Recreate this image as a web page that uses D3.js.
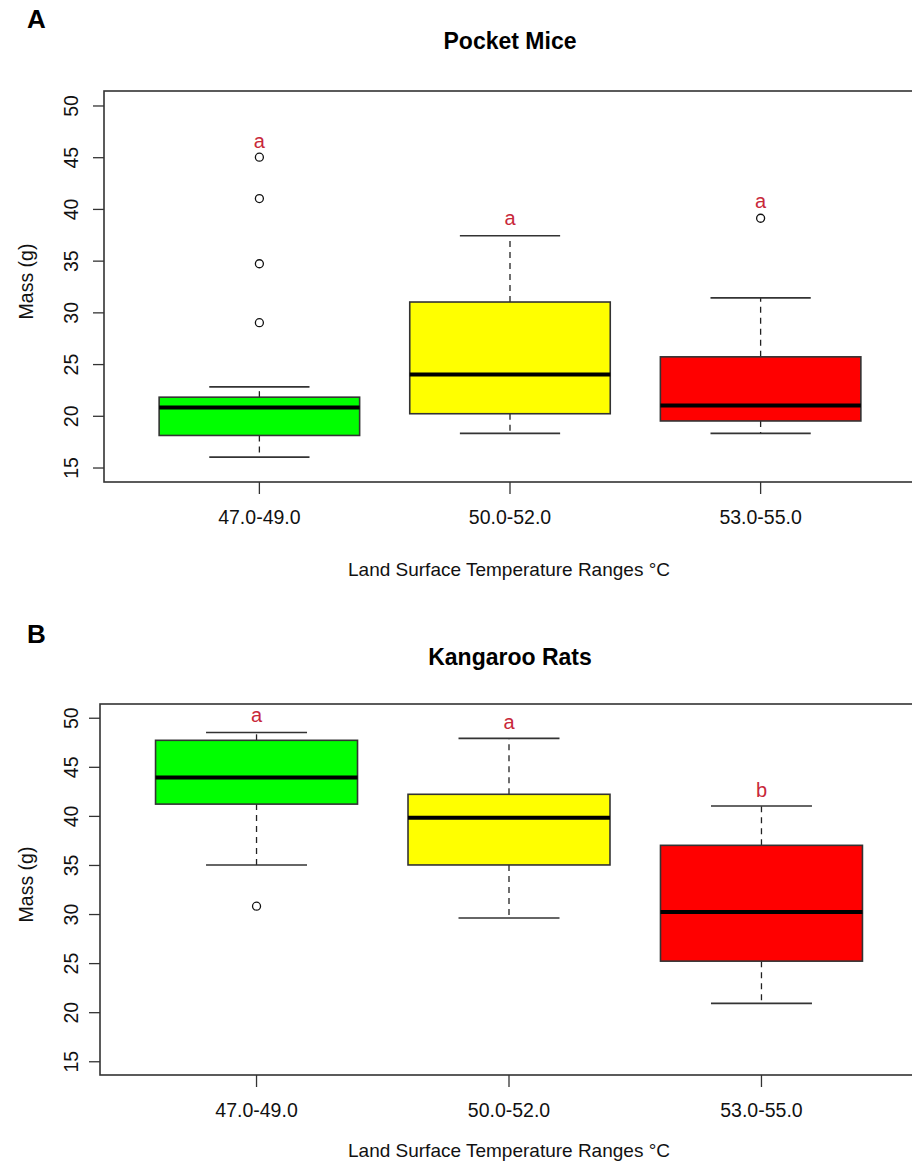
<!DOCTYPE html>
<html lang="en">
<head>
    <meta charset="UTF-8">
    <title>Mass by land surface temperature</title>
    <script src="https://cdn.jsdelivr.net/npm/d3@7"></script>
    <style>
        body { margin: 0; background: #fff; }
        svg { display: block; }
        text { font-family: "Liberation Sans", Arial, sans-serif; }
    </style>
</head>
<body>
    <div id="grafico"></div>
    <script type="text/javascript">

        // categories and ticks
        var groups = ["47.0-49.0", "50.0-52.0", "53.0-55.0"];
        var yTicks = [15, 20, 25, 30, 35, 40, 45, 50];
        var boxColors = ["#00ff00", "#ffff00", "#ff0000"];

        // Pocket Mice (panel A)
        var pmLow = [16.0, 18.3, 18.3];
        var pmQ1 = [18.1, 20.2, 19.5];
        var pmMedian = [20.8, 24.0, 21.0];
        var pmQ3 = [21.8, 31.0, 25.7];
        var pmHigh = [22.8, 37.4, 31.4];
        var pmOutliers = [[45.0, 41.0, 34.7, 29.0], [], [39.1]];
        var pmLetters = ["a", "a", "a"];
        var pmLetterAt = [46.6, 39.1, 40.8];

        // Kangaroo Rats (panel B)
        var krLow = [35.0, 29.6, 20.9];
        var krQ1 = [41.2, 35.0, 25.2];
        var krMedian = [43.9, 39.8, 30.2];
        var krQ3 = [47.7, 42.2, 37.0];
        var krHigh = [48.5, 47.9, 41.0];
        var krOutliers = [[30.8], [], []];
        var krLetters = ["a", "a", "b"];
        var krLetterAt = [50.3, 49.6, 42.6];

        var w = 912, h = 1170;

        var svg = d3.select("#grafico")
            .append("svg")
            .attr("width", w)
            .attr("height", h);

        svg.append("rect").attr("width", w).attr("height", h).attr("fill", "#fff");

        function panel(opt) {
            var g = svg.append("g");

            var x = d3.scaleBand()
                .domain(groups)
                .range([opt.left, opt.right])
                .paddingInner(0.2)
                .paddingOuter(0.22);

            var y = d3.scaleLinear()
                .domain([13.6, 51.4])
                .range([opt.bottom, opt.top]);

            var cx = function(i) { return x(groups[i]) + x.bandwidth() / 2; };
            var bw = x.bandwidth();

            // panel letter + title
            g.append("text")
                .attr("x", 27).attr("y", opt.labelY)
                .attr("font-size", "26px").attr("font-weight", "bold")
                .text(opt.label);
            g.append("text")
                .attr("x", 510).attr("y", opt.titleY)
                .attr("text-anchor", "middle")
                .attr("font-size", "23px").attr("font-weight", "bold")
                .text(opt.title);

            var data = d3.range(groups.length).map(function(i) {
                return {i: i, low: opt.low[i], q1: opt.q1[i], med: opt.med[i],
                        q3: opt.q3[i], high: opt.high[i]};
            });

            var boxes = g.selectAll("g.box").data(data).enter().append("g").attr("class", "box");

            // whiskers (dashed)
            boxes.append("line")
                .attr("x1", function(d) { return cx(d.i); })
                .attr("x2", function(d) { return cx(d.i); })
                .attr("y1", function(d) { return y(d.q3); })
                .attr("y2", function(d) { return y(d.high); })
                .attr("stroke", "#222").attr("stroke-width", 1.3)
                .attr("stroke-dasharray", "6,5");
            boxes.append("line")
                .attr("x1", function(d) { return cx(d.i); })
                .attr("x2", function(d) { return cx(d.i); })
                .attr("y1", function(d) { return y(d.q1); })
                .attr("y2", function(d) { return y(d.low); })
                .attr("stroke", "#222").attr("stroke-width", 1.3)
                .attr("stroke-dasharray", "6,5");

            // staples
            ["high", "low"].forEach(function(k) {
                boxes.append("line")
                    .attr("x1", function(d) { return cx(d.i) - bw / 4; })
                    .attr("x2", function(d) { return cx(d.i) + bw / 4; })
                    .attr("y1", function(d) { return y(d[k]); })
                    .attr("y2", function(d) { return y(d[k]); })
                    .attr("stroke", "#333").attr("stroke-width", 1.6);
            });

            boxes.append("rect")
                .attr("x", function(d) { return x(groups[d.i]); })
                .attr("width", bw)
                .attr("y", function(d) { return y(d.q3); })
                .attr("height", function(d) { return y(d.q1) - y(d.q3); })
                .attr("fill", function(d) { return boxColors[d.i]; })
                .attr("stroke", "#333").attr("stroke-width", 1.6);

            boxes.append("line")
                .attr("x1", function(d) { return x(groups[d.i]); })
                .attr("x2", function(d) { return x(groups[d.i]) + bw; })
                .attr("y1", function(d) { return y(d.med); })
                .attr("y2", function(d) { return y(d.med); })
                .attr("stroke", "#000").attr("stroke-width", 4);

            // outliers
            var pts = [];
            opt.outliers.forEach(function(arr, i) {
                arr.forEach(function(v) { pts.push({i: i, v: v}); });
            });
            g.selectAll("circle.out").data(pts).enter().append("circle")
                .attr("class", "out")
                .attr("cx", function(d) { return cx(d.i); })
                .attr("cy", function(d) { return y(d.v); })
                .attr("r", 4)
                .attr("fill", "none").attr("stroke", "#111").attr("stroke-width", 1.3);

            // significance letters
            g.selectAll("text.sig").data(opt.letters).enter().append("text")
                .attr("class", "sig")
                .attr("x", function(d, i) { return cx(i); })
                .attr("y", function(d, i) { return y(opt.letterAt[i]); })
                .attr("dy", "0.35em")
                .attr("text-anchor", "middle")
                .attr("font-size", "20px")
                .attr("fill", "#c8283a")
                .text(function(d) { return d; });

            // frame
            g.append("rect")
                .attr("x", opt.left).attr("y", opt.top)
                .attr("width", opt.right - opt.left)
                .attr("height", opt.bottom - opt.top)
                .attr("fill", "none").attr("stroke", "#333").attr("stroke-width", 1.6);

            // y axis
            var yAxis = g.append("g")
                .attr("transform", "translate(" + opt.left + ",0)")
                .call(d3.axisLeft(y).tickValues(yTicks).tickSize(11).tickPadding(9));
            yAxis.select(".domain").remove();
            yAxis.selectAll(".tick line").attr("stroke", "#333").attr("stroke-width", 1.3);
            yAxis.selectAll(".tick text")
                .attr("font-size", "19.5px").attr("fill", "#111")
                .attr("font-family", "Liberation Sans, Arial, sans-serif")
                .attr("transform", "rotate(-90)")
                .attr("x", 0).attr("y", opt.left === 100 ? -22 : -26)
                .attr("dy", 0)
                .attr("text-anchor", "middle");

            g.append("text")
                .attr("transform", "translate(33," + ((opt.top + opt.bottom) / 2 - 5) + ") rotate(-90)")
                .attr("text-anchor", "middle")
                .attr("font-size", "19.5px").attr("fill", "#111")
                .text("Mass (g)");

            // x axis
            var xAxis = g.append("g")
                .attr("transform", "translate(0," + opt.bottom + ")")
                .call(d3.axisBottom(x).tickSize(12).tickPadding(16));
            xAxis.select(".domain").remove();
            xAxis.selectAll(".tick line").attr("stroke", "#333").attr("stroke-width", 1.3);
            xAxis.selectAll(".tick text")
                .attr("font-size", "19.5px").attr("fill", "#111")
                .attr("font-family", "Liberation Sans, Arial, sans-serif");

            g.append("text")
                .attr("x", 509).attr("y", opt.xTitleY)
                .attr("text-anchor", "middle")
                .attr("font-size", "19px").attr("fill", "#111")
                .text("Land Surface Temperature Ranges °C");
        }

        panel({label: "A", labelY: 28, title: "Pocket Mice", titleY: 49,
               left: 104, right: 916, top: 91, bottom: 482, xTitleY: 576,
               low: pmLow, q1: pmQ1, med: pmMedian, q3: pmQ3, high: pmHigh,
               outliers: pmOutliers, letters: pmLetters, letterAt: pmLetterAt});

        panel({label: "B", labelY: 643, title: "Kangaroo Rats", titleY: 665,
               left: 100, right: 918, top: 704, bottom: 1075, xTitleY: 1157,
               low: krLow, q1: krQ1, med: krMedian, q3: krQ3, high: krHigh,
               outliers: krOutliers, letters: krLetters, letterAt: krLetterAt});

    </script>
</body>
</html>
